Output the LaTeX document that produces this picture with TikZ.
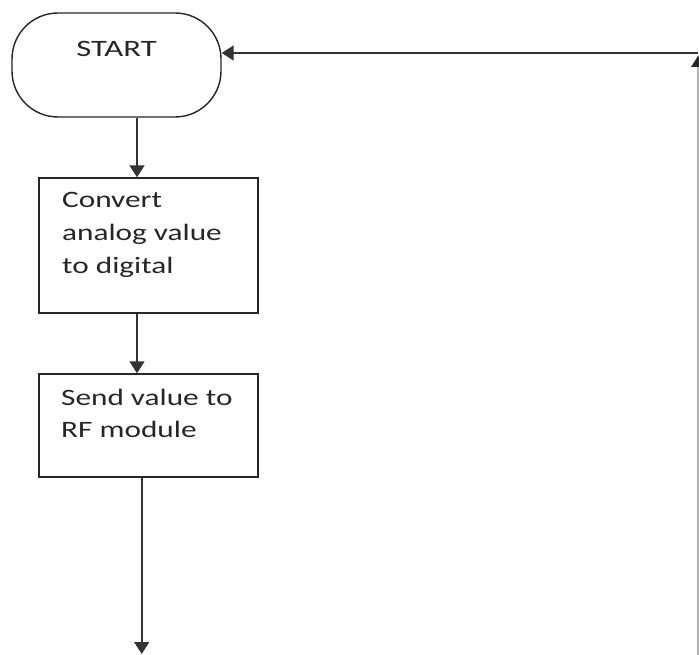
\documentclass[tikz,border=0pt]{standalone}
\usepackage{fontspec}
\setmainfont{Carlito}
\usetikzlibrary{arrows.meta}
\begin{document}
\begin{tikzpicture}[x=1pt,y=-1pt,
  shapebox/.style={draw=black!85,line width=1.4pt,inner sep=0pt},
  txt/.style={anchor=base west,inner sep=0pt,font=\fontsize{23.5}{32}\selectfont,text=black!85},
  arr/.style={draw=black!80,line width=1.7pt,-{Triangle[width=15pt,length=12pt]}},
  ret/.style={draw=black!30,line width=1.6pt}]
\useasboundingbox (0,0) rectangle (699,655);
\fill[white] (0,0) rectangle (699,655);
\node[shapebox,rounded corners=46pt,minimum width=209pt,minimum height=104pt] (start) at (116.5,65) {};
\node[shapebox,minimum width=219pt,minimum height=135pt] (box1) at (148.5,245.5) {};
\node[shapebox,minimum width=219pt,minimum height=103pt] (box2) at (148.5,425.5) {};
\node[txt,anchor=base] (t0) at (116.5,57) {\scalebox{1.39}[1]{START}};
\node[txt] (t1) at (62,208) {\scalebox{1.33}[1]{Convert}};
\node[txt] (t2) at (62,241) {\scalebox{1.33}[1]{analog value}};
\node[txt] (t3) at (62,273) {\scalebox{1.33}[1]{to digital}};
\node[txt] (t4) at (61,405) {\scalebox{1.33}[1]{Send value to}};
\node[txt] (t5) at (61,437) {\scalebox{1.33}[1]{RF module}};
\coordinate (ax) at (137,0);
\coordinate (bx) at (141.7,0);
\coordinate (endc) at (141.7,654);
\coordinate (rtop) at (698,53);
\coordinate (rtip) at (698,56);
\coordinate (rbot) at (698,655);
\draw[arr] (start.south -| ax) -- (box1.north -| ax);
\draw[arr] (box1.south -| ax) -- (box2.north -| ax);
\draw[arr] (box2.south -| bx) -- (endc);
\draw[arr] (rtop) -- (start.east |- rtop);
\draw[ret] (rbot) -- (rtip);
\fill[black!85] (rtip) -- ++(-7,11) -- ++(14,0) -- cycle;
\end{tikzpicture}
\end{document}
